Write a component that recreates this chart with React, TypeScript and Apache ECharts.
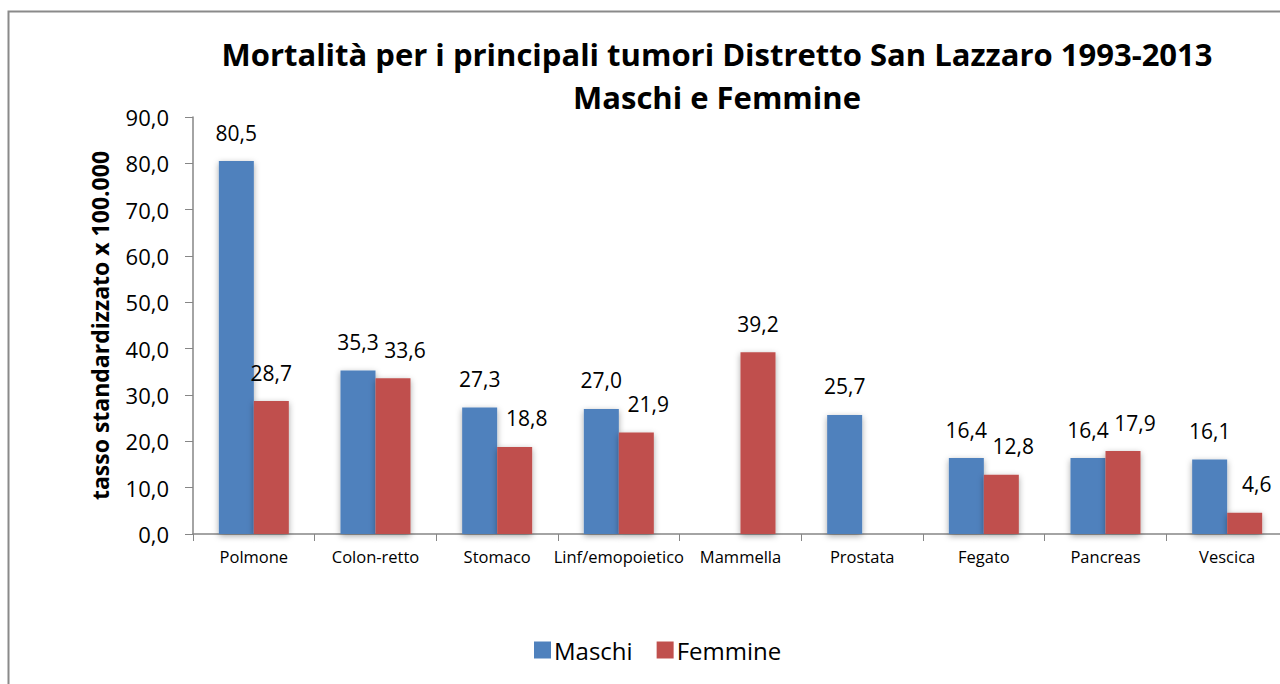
import React, { useEffect, useRef } from "react";
import * as echarts from "echarts";

const categories = [
  "Polmone",
  "Colon-retto",
  "Stomaco",
  "Linf/emopoietico",
  "Mammella",
  "Prostata",
  "Fegato",
  "Pancreas",
  "Vescica",
];
const maschi: (number | null)[] = [80.5, 35.3, 27.3, 27.0, null, 25.7, 16.4, 16.4, 16.1];
const femmine: (number | null)[] = [28.7, 33.6, 18.8, 21.9, 39.2, null, 12.8, 17.9, 4.6];
const titleLines = [
  "Mortalità per i principali tumori Distretto San Lazzaro 1993-2013",
  "Maschi e Femmine",
];
const yAxisName = "tasso standardizzato x 100.000";
const seriesNames = ["Maschi", "Femmine"];

const fmt = (v: number) => v.toFixed(1).replace(".", ",");
const FONT = "'Open Sans', 'DejaVu Sans', sans-serif";

export default function App() {
  const ref = useRef<HTMLDivElement>(null);
  useEffect(() => {
    document.body.style.margin = "0";
    document.body.style.overflow = "hidden";
    if (!ref.current) return;
    const chart = echarts.init(ref.current, undefined, { renderer: "svg" });
    const barStyle = (color: string) => ({
      color,
      shadowBlur: 6,
      shadowColor: "rgba(0,0,0,0.35)",
      shadowOffsetY: 2,
    });
    const label = {
      show: true,
      position: "top" as const,
      distance: 18,
      color: "#000",
      fontFamily: FONT,
      fontSize: 21,
      formatter: (p: any) => fmt(p.value),
    };
    // Femmine labels are nudged right (as in the reference) except where no neighbour label is close
    const centred = new Set(["Polmone", "Mammella"]);
    const femmineData = femmine.map((v, i) =>
      centred.has(categories[i]) ? { value: v, label: { offset: [0, 0] } } : v
    );
    chart.setOption({
      animation: false,
      backgroundColor: "#fff",
      textStyle: { fontFamily: FONT },
      title: {
        text: titleLines.join("\n"),
        left: 712,
        top: 27,
        textAlign: "center",
        textStyle: {
          fontFamily: FONT,
          fontWeight: "bold",
          fontSize: 31,
          lineHeight: 43,
          color: "#000",
        },
      },
      legend: {
        left: 529,
        top: 633,
        itemWidth: 17,
        itemHeight: 17,
        itemGap: 24,
        icon: "rect",
        textStyle: { fontFamily: FONT, fontSize: 24, color: "#000", padding: [0, 0, 0, -2] },
        data: seriesNames,
      },
      graphic: [
        {
          type: "rect",
          shape: { x: 8.5, y: 11.5, width: 1400, height: 900 },
          style: { fill: "none", stroke: "#8a8a8a", lineWidth: 2 },
          silent: true,
        },
      ],
      grid: { left: 193, top: 117, width: 1095, height: 417 },
      xAxis: {
        type: "category",
        data: categories,
        axisLine: { lineStyle: { color: "#868686", width: 1.5 } },
        axisTick: { show: true, length: 7, lineStyle: { color: "#868686" } },
        axisLabel: {
          margin: 14,
          color: "#000",
          fontFamily: FONT,
          fontSize: 16.5,
          interval: 0,
        },
      },
      yAxis: {
        type: "value",
        min: 0,
        max: 90,
        interval: 10,
        name: yAxisName,
        nameLocation: "middle",
        nameRotate: 90,
        nameGap: 82,
        nameTextStyle: {
          fontFamily: FONT,
          fontWeight: "bold",
          fontSize: 23,
          color: "#000",
        },
        axisLine: { show: true, lineStyle: { color: "#868686", width: 1.5 } },
        axisTick: { show: true, length: 8, lineStyle: { color: "#868686" } },
        splitLine: { show: false },
        axisLabel: {
          margin: 24,
          color: "#000",
          fontFamily: FONT,
          fontSize: 22,
          formatter: (v: number) => fmt(v),
        },
      },
      series: [
        {
          name: seriesNames[0],
          type: "bar",
          data: maschi,
          barWidth: 35,
          barGap: "0%",
          itemStyle: barStyle("#4F81BD"),
          label,
        },
        {
          name: seriesNames[1],
          type: "bar",
          data: femmineData,
          barWidth: 35,
          barGap: "0%",
          itemStyle: barStyle("#C0504D"),
          label: { ...label, offset: [12, 0] },
        },
      ],
    });
    return () => chart.dispose();
  }, []);
  return (
    <div style={{ width: 1280, height: 684, overflow: "hidden", position: "relative" }}>
      <div ref={ref} style={{ width: 1300, height: 684 }} />
    </div>
  );
}
